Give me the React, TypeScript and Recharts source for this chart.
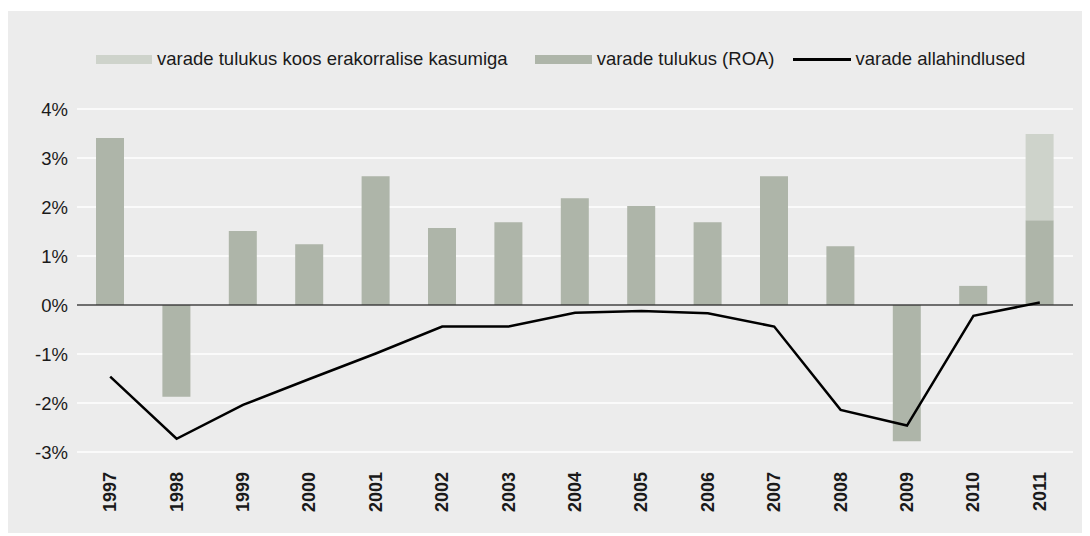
import React from 'react';
import { ComposedChart, Bar, Line, XAxis, YAxis, CartesianGrid, ReferenceLine, Legend } from 'recharts';

const years = ['1997', '1998', '1999', '2000', '2001', '2002', '2003', '2004', '2005', '2006', '2007', '2008', '2009', '2010', '2011'];
const roa = [3.41, -1.87, 1.51, 1.24, 2.63, 1.57, 1.69, 2.18, 2.02, 1.69, 2.63, 1.2, -2.78, 0.39, 1.73];
const extraordinary = [null, null, null, null, null, null, null, null, null, null, null, null, null, null, 1.76];
const writedowns = [-1.46, -2.73, -2.04, -1.51, -0.99, -0.44, -0.44, -0.16, -0.12, -0.17, -0.44, -2.14, -2.46, -0.22, 0.05];
const yTicks = [-3, -2, -1, 0, 1, 2, 3, 4];

const labelExtra = 'varade tulukus koos erakorralise kasumiga';
const labelRoa = 'varade tulukus (ROA)';
const labelLine = 'varade allahindlused';

const COLOR_EXTRA = '#ced3cb';
const COLOR_ROA = '#aeb5a9';
const COLOR_LINE = '#000000';
const FONT = '"Liberation Sans", Arial, Helvetica, sans-serif';
const TEXT = '#1a1a1a';

const data = years.map((y, i) => ({
  year: y,
  roa: roa[i],
  extra: extraordinary[i],
  wd: writedowns[i],
}));

const LegendContent = () => (
  <div style={{ display: 'flex', alignItems: 'center', fontFamily: FONT, fontSize: 18.5, color: TEXT, whiteSpace: 'nowrap', height: 20 }}>
    <span style={{ display: 'inline-block', width: 56, height: 9, background: COLOR_EXTRA, marginRight: 5 }} />
    <span style={{ marginRight: 27 }}>{labelExtra}</span>
    <span style={{ display: 'inline-block', width: 57, height: 9, background: COLOR_ROA, marginRight: 5 }} />
    <span style={{ marginRight: 18 }}>{labelRoa}</span>
    <span style={{ display: 'inline-block', width: 58, height: 3, background: COLOR_LINE, marginRight: 5 }} />
    <span>{labelLine}</span>
  </div>
);

const XTick = (props: any) => {
  const { x, y, payload } = props;
  return (
    <text
      transform={`translate(${x},${y + 20}) rotate(-90)`}
      textAnchor="end"
      dominantBaseline="central"
      fontFamily={FONT}
      fontSize={18}
      fontWeight="bold"
      fill={TEXT}
    >
      {payload.value}
    </text>
  );
};

export default function App() {
  return (
    <div style={{ position: 'relative', top: 3, width: 1082, height: 525, background: '#ececec' }}>
      <ComposedChart
        width={1082}
        height={525}
        data={data}
        margin={{ top: 98, right: 17, bottom: 0, left: 9 }}
        stackOffset="sign"
      >
        <CartesianGrid horizontal vertical={false} stroke="#ffffff" strokeWidth={1.5} />
        <XAxis
          dataKey="year"
          interval={0}
          axisLine={false}
          tickLine={false}
          tickSize={0}
          tickMargin={0}
          height={84}
          tick={<XTick />}
        />
        <YAxis
          domain={[-3, 4]}
          ticks={yTicks}
          interval={0}
          width={60}
          axisLine={false}
          tickLine={false}
          tickSize={0}
          tickMargin={9}
          tickFormatter={(v: number) => `${v}%`}
          tick={{ fontFamily: FONT, fontSize: 18.5, fill: TEXT }}
        />
        <ReferenceLine y={0} stroke="#3f3f3f" strokeWidth={1.6} />
        <Bar dataKey="roa" name={labelRoa} stackId="a" fill={COLOR_ROA} barSize={28} isAnimationActive={false} />
        <Bar dataKey="extra" name={labelExtra} stackId="a" fill={COLOR_EXTRA} barSize={28} isAnimationActive={false} />
        <Line dataKey="wd" name={labelLine} type="linear" stroke={COLOR_LINE} strokeWidth={2.5} dot={false} activeDot={false} isAnimationActive={false} />
        <Legend
          layout="horizontal"
          verticalAlign="middle"
          align="center"
          wrapperStyle={{ top: 38, left: 88, width: 'auto' }}
          content={<LegendContent />}
        />
      </ComposedChart>
    </div>
  );
}
